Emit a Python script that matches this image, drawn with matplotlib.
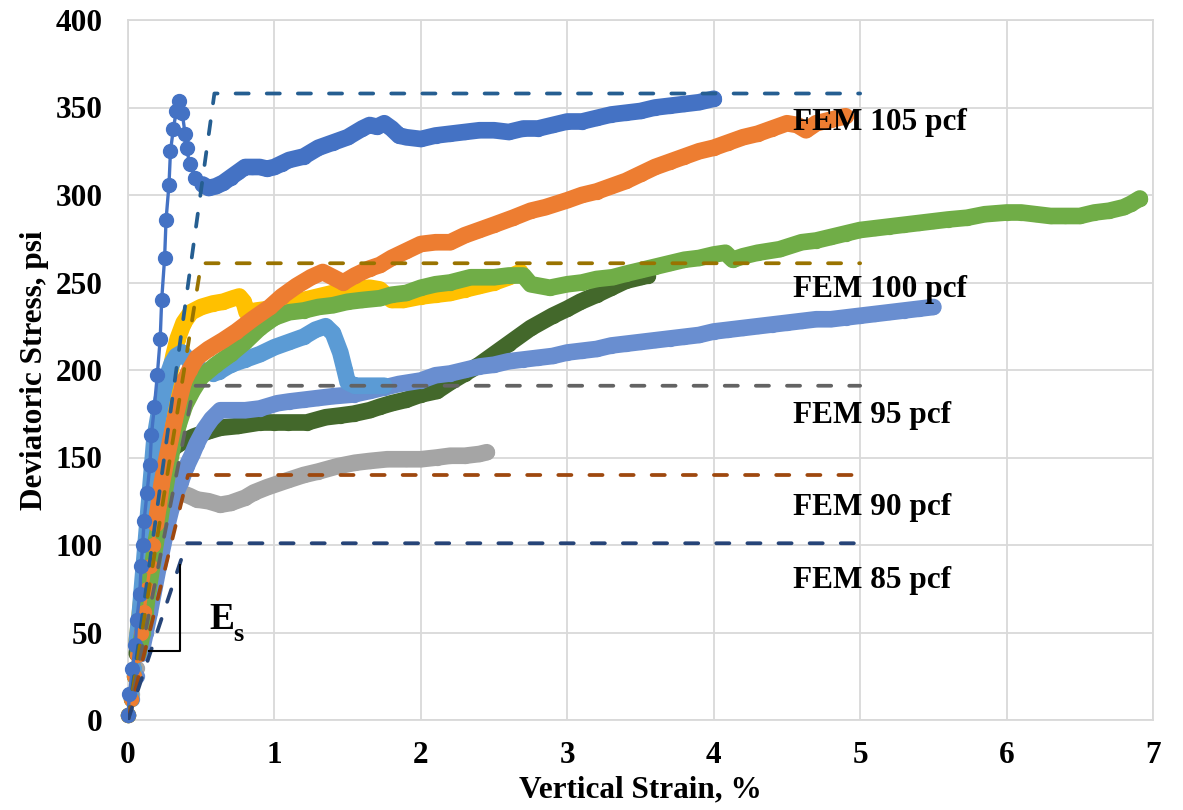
import matplotlib
matplotlib.use("Agg")
import matplotlib.pyplot as plt

plt.rcParams["font.family"] = ["Liberation Serif", "DejaVu Serif"]
plt.rcParams["font.weight"] = "bold"

# ---- measured stress-strain curves (strain %, deviatoric stress psi) ----
blue_x = [0.00, 0.01, 0.03, 0.05, 0.06, 0.08, 0.09, 0.10, 0.11, 0.13, 0.15, 0.16, 0.18, 0.20,
          0.22, 0.23, 0.25, 0.26, 0.28, 0.29, 0.31, 0.33, 0.35, 0.37, 0.39, 0.40, 0.42, 0.46, 0.51,
          0.55, 0.60, 0.65, 0.70, 0.75, 0.80, 0.85, 0.90, 0.95, 1.00, 1.05, 1.10, 1.20, 1.30, 1.40,
          1.50, 1.60, 1.65, 1.70, 1.75, 1.80, 1.85, 1.90, 2.00, 2.10, 2.20, 2.30, 2.40, 2.50, 2.60,
          2.70, 2.80, 2.90, 3.00, 3.10, 3.20, 3.30, 3.40, 3.50, 3.60, 3.70, 3.80, 3.90, 4.00]
blue_y = [3, 15, 29, 43, 57, 72, 88, 100, 114, 130, 146, 163, 179, 197,
          218, 240, 264, 286, 306, 325, 338, 348, 354, 347, 335, 327, 318, 310, 306,
          304, 305, 307, 310, 313, 316, 316, 316, 315, 316, 318, 320, 322, 327, 330,
          333, 338, 340, 339, 341, 338, 334, 333, 332, 334, 335, 336, 337, 337, 336,
          338, 338, 340, 342, 342, 344, 346, 347, 348, 350, 351, 352, 353, 355]

orange_x = [0.00, 0.02, 0.04, 0.06, 0.09, 0.11, 0.13, 0.15, 0.17, 0.19, 0.21, 0.23, 0.26, 0.29,
            0.32, 0.35, 0.38, 0.42, 0.47, 0.55, 0.65, 0.74, 0.85, 0.97, 1.05, 1.15, 1.25, 1.33,
            1.40, 1.47, 1.55, 1.65, 1.72, 1.80, 1.90, 2.00, 2.10, 2.20, 2.30, 2.40, 2.50, 2.63,
            2.75, 2.85, 3.00, 3.10, 3.20, 3.30, 3.40, 3.50, 3.60, 3.70, 3.80, 3.90, 4.00, 4.10,
            4.20, 4.30, 4.40, 4.50, 4.57, 4.63, 4.70, 4.80, 4.90]
orange_y = [3, 12, 25, 37, 50, 62, 75, 88, 100, 112, 123, 135, 148, 160,
            172, 183, 193, 200, 207, 212, 217, 222, 229, 236, 242, 248, 253, 256,
            253, 250, 254, 258, 260, 264, 268, 272, 273, 273, 277, 280, 283, 287,
            291, 293, 297, 300, 302, 305, 308, 312, 316, 319, 322, 325, 327, 330,
            333, 335, 338, 341, 340, 337, 341, 343, 345]

green_x = [0.00, 0.02, 0.04, 0.07, 0.10, 0.12, 0.14, 0.17, 0.19, 0.22, 0.25, 0.28, 0.31, 0.35,
           0.39, 0.44, 0.50, 0.60, 0.70, 0.80, 0.90, 1.00, 1.10, 1.20, 1.30, 1.40, 1.50, 1.60,
           1.72, 1.80, 1.90, 2.00, 2.10, 2.20, 2.34, 2.50, 2.60, 2.70, 2.75, 2.88, 3.00, 3.10,
           3.20, 3.31, 3.40, 3.50, 3.60, 3.70, 3.80, 3.90, 4.00, 4.08, 4.13, 4.20, 4.30, 4.45,
           4.60, 4.70, 4.80, 4.90, 5.00, 5.10, 5.20, 5.30, 5.40, 5.50, 5.60, 5.73, 5.85, 6.00,
           6.10, 6.20, 6.30, 6.40, 6.50, 6.60, 6.70, 6.80, 6.85, 6.91]
green_y = [3, 12, 25, 38, 50, 62, 75, 90, 102, 115, 130, 145, 158, 170,
           180, 188, 196, 203, 209, 216, 224, 230, 233, 234, 236, 237, 239, 240,
           241, 243, 244, 247, 249, 250, 253, 253, 254, 254, 249, 247, 249, 250,
           252, 253, 255, 257, 259, 261, 263, 264, 266, 267, 263, 265, 267, 269,
           273, 274, 276, 278, 280, 281, 282, 283, 284, 285, 286, 287, 289, 290,
           290, 289, 288, 288, 288, 290, 291, 293, 295, 298]

yellow_x = [0.00, 0.02, 0.04, 0.06, 0.08, 0.10, 0.12, 0.14, 0.16, 0.18, 0.20, 0.22, 0.25, 0.28,
            0.31, 0.34, 0.38, 0.43, 0.50, 0.58, 0.65, 0.72, 0.76, 0.79, 0.81, 0.88, 0.97, 1.05,
            1.15, 1.25, 1.35, 1.45, 1.55, 1.65, 1.72, 1.80, 1.88, 2.00, 2.10, 2.20, 2.30, 2.40,
            2.50, 2.60, 2.68]
yellow_y = [3, 15, 30, 45, 60, 75, 90, 105, 120, 135, 150, 165, 180, 195,
            208, 218, 227, 233, 236, 238, 239, 241, 242, 239, 233, 234, 235, 237,
            239, 241, 243, 245, 246, 247, 246, 240, 240, 242, 243, 244, 246, 248,
            250, 253, 256]

ltblue_x = [0.00, 0.02, 0.04, 0.06, 0.08, 0.10, 0.12, 0.14, 0.16, 0.18, 0.21, 0.24, 0.27, 0.30,
            0.33, 0.37, 0.42, 0.50, 0.58, 0.62, 0.70, 0.80, 0.90, 1.00, 1.10, 1.20, 1.28, 1.35,
            1.40, 1.45, 1.48, 1.50, 1.55, 1.65, 1.75]
ltblue_y = [3, 15, 30, 45, 60, 80, 100, 120, 140, 160, 175, 187, 197, 204,
            208, 210, 205, 200, 198, 199, 203, 206, 209, 213, 216, 219, 223, 225,
            221, 210, 200, 193, 191, 191, 191]

dkgreen_x = [0.00, 0.02, 0.04, 0.06, 0.08, 0.10, 0.12, 0.14, 0.16, 0.18, 0.20, 0.23, 0.26, 0.29,
             0.35, 0.45, 0.55, 0.63, 0.75, 0.90, 1.00, 1.09, 1.22, 1.35, 1.45, 1.54, 1.65, 1.72,
             1.80, 1.90, 2.00, 2.11, 2.20, 2.30, 2.40, 2.50, 2.60, 2.75, 2.90, 3.00, 3.09, 3.20,
             3.30, 3.40, 3.50, 3.55]
dkgreen_y = [3, 12, 25, 38, 50, 62, 75, 88, 100, 112, 125, 138, 148, 154,
             158, 162, 165, 167, 168, 170, 170, 170, 170, 173, 174, 175, 177, 179,
             181, 183, 186, 188, 193, 198, 203, 209, 215, 224, 231, 235, 239, 243,
             247, 251, 253, 254]

peri_x = [0.00, 0.03, 0.06, 0.09, 0.12, 0.15, 0.18, 0.21, 0.24, 0.27, 0.30, 0.33, 0.36, 0.40,
          0.44, 0.47, 0.52, 0.57, 0.63, 0.70, 0.80, 0.90, 1.02, 1.10, 1.20, 1.30, 1.40, 1.54,
          1.65, 1.75, 1.85, 2.00, 2.10, 2.20, 2.30, 2.40, 2.50, 2.60, 2.70, 2.80, 2.90, 3.00,
          3.10, 3.20, 3.30, 3.40, 3.50, 3.60, 3.70, 3.80, 3.90, 4.00, 4.10, 4.20, 4.30, 4.40,
          4.50, 4.60, 4.70, 4.80, 4.90, 5.00, 5.10, 5.20, 5.30, 5.40, 5.50]
peri_y = [3, 12, 25, 38, 50, 62, 75, 88, 100, 112, 122, 130, 136, 145,
          152, 158, 166, 172, 177, 177, 177, 178, 181, 182, 183, 184, 185, 186,
          188, 190, 192, 194, 197, 198, 200, 202, 203, 205, 206, 207, 208, 210,
          211, 212, 214, 215, 216, 217, 218, 219, 220, 222, 223, 224, 225, 226,
          227, 228, 229, 229, 230, 231, 232, 233, 234, 235, 236]

gray_x = [0.00, 0.03, 0.06, 0.09, 0.12, 0.15, 0.18, 0.21, 0.24, 0.27, 0.30, 0.33,
          0.36, 0.42, 0.47, 0.55, 0.63, 0.70, 0.80, 0.86, 0.95, 1.09, 1.20, 1.30, 1.43,
          1.55, 1.65, 1.77, 1.90, 2.00, 2.11, 2.20, 2.30, 2.40, 2.45]
gray_y = [3, 15, 30, 45, 60, 75, 88, 100, 110, 118, 125, 129,
          130, 128, 126, 125, 123, 124, 127, 130, 133, 137, 140, 142, 145,
          147, 148, 149, 149, 149, 150, 151, 151, 152, 153]

# ---- FEM bilinear predictions: yield strain, yield stress, label ----
fem_labels = ["FEM 105 pcf", "FEM 100 pcf", "FEM 95 pcf", "FEM 90 pcf", "FEM 85 pcf"]
fem_yield_strain = [0.59, 0.50, 0.45, 0.41, 0.40]
fem_yield_stress = [358, 261, 191, 140, 101]
fem_end_strain = 5.0

x_ticks = [0, 1, 2, 3, 4, 5, 6, 7]
y_ticks = [0, 50, 100, 150, 200, 250, 300, 350, 400]

fig = plt.figure(figsize=(11.83, 8.10), dpi=100)
ax = fig.add_axes([128 / 1183, 1 - 720 / 810, (1153 - 128) / 1183, 700 / 810])

grid_c = "#D9D9D9"
ax.set_xlim(0, 7)
ax.set_ylim(0, 400)
ax.set_xticks(x_ticks)
ax.set_yticks(y_ticks)
ax.grid(True, color=grid_c, lw=1.3, zorder=0)
ax.set_axisbelow(True)
for s in ax.spines.values():
    s.set_color(grid_c)
    s.set_linewidth(1.3)
ax.tick_params(length=0, labelsize=22.5)
ax.tick_params(axis="x", pad=15)
ax.tick_params(axis="y", pad=18)
for lab in ax.get_xticklabels() + ax.get_yticklabels():
    lab.set_fontweight("bold")

# (x, y, colour, number of sparse points on the initial ramp)
series = [
    (gray_x, gray_y, "#A5A5A5", 4),
    (dkgreen_x, dkgreen_y, "#43682B", 4),
    (peri_x, peri_y, "#698ED0", 4),
    (yellow_x, yellow_y, "#FFC000", 4),
    (ltblue_x, ltblue_y, "#5B9BD5", 4),
    (green_x, green_y, "#70AD47", 4),
    (orange_x, orange_y, "#ED7D31", 10),
    (blue_x, blue_y, "#4472C4", 29),
]
z = 3
band_w = 12
for xs, ys, c, n in series:
    ax.plot(xs, ys, color=c, lw=2.4, marker="o", ms=10, mec=c, mfc=c, zorder=z,
            clip_on=False)
    ax.plot(xs[n - 1:], ys[n - 1:], color=c, lw=band_w, solid_capstyle="round",
            solid_joinstyle="round", zorder=z + 0.5)
    z += 1

fem_colors = ["#255E91", "#997300", "#636363", "#9E480E", "#264478"]
for ex, sy, c in zip(fem_yield_strain, fem_yield_stress, fem_colors):
    ax.plot([0, ex, fem_end_strain], [0, sy, sy], color=c, lw=2.7,
            dashes=(3.5, 4.8), dash_capstyle="round", zorder=20)

label_baseline = [337, 241.5, 169.5, 117, 75.5]
for lab, yb in zip(fem_labels, label_baseline):
    ax.text(4.54, yb, lab, fontsize=22.5, fontweight="bold", va="baseline",
            ha="left", zorder=25)

# secant modulus bracket
ax.plot([0.143, 0.355, 0.355], [39.5, 39.5, 88.5], color="black", lw=1.5, zorder=22)
ax.text(0.555, 52, "E", fontsize=27, fontweight="bold", va="baseline", ha="left")
ax.text(0.72, 45, "s", fontsize=19, fontweight="bold", va="baseline", ha="left")

ax.set_xlabel("Vertical Strain, %", fontsize=22.5, fontweight="bold", labelpad=4)
ax.set_ylabel("Deviatoric Stress, psi", fontsize=22.5, fontweight="bold", labelpad=5)

fig.savefig("out.png", dpi=100)
